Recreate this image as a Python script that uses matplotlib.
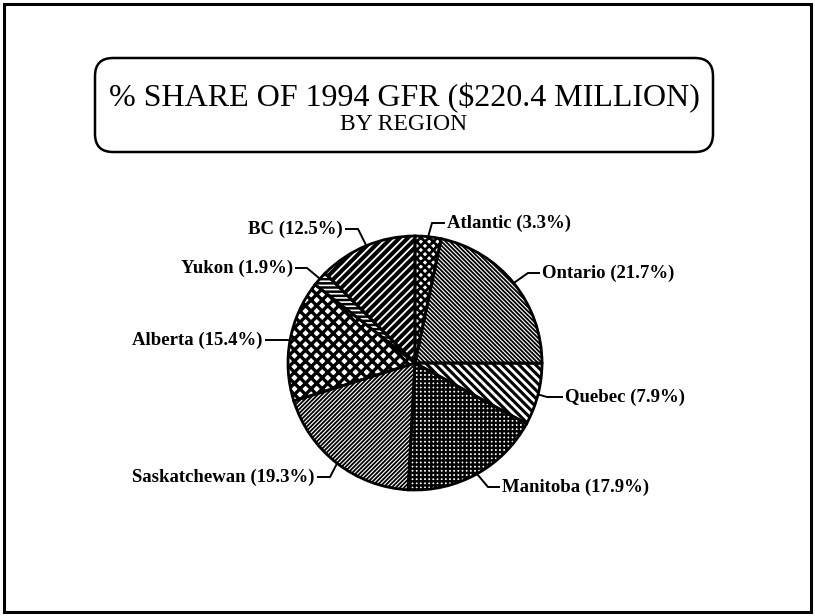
import numpy as np
import matplotlib
matplotlib.use('Agg')
import matplotlib.pyplot as plt
from matplotlib.patches import Wedge, FancyBboxPatch, Rectangle

# ---------------- data ----------------
regions = ['Atlantic', 'Ontario', 'Quebec', 'Manitoba', 'Saskatchewan', 'Alberta', 'Yukon', 'BC']
shares = [3.3, 21.7, 7.9, 17.9, 19.3, 15.4, 1.9, 12.5]
title_line1 = '% SHARE OF 1994 GFR (\\$220.4 MILLION)'
title_line2 = 'BY REGION'

# ---------------- styles / layout ----------------
W, H = 815, 616
hatch_styles = {
    'Atlantic':     dict(face='white', hatch='xxxx', hc='black', hlw=2.0),
    'Ontario':      dict(face='white', hatch='\\' * 8, hc='black', hlw=1.3),
    'Quebec':       dict(face='black', hatch='\\' * 4, hc='white', hlw=2.0),
    'Manitoba':     dict(face='white', hatch='+' * 4, hc='black', hlw=1.7),
    'Saskatchewan': dict(face='white', hatch='/' * 8, hc='black', hlw=1.3),
    'Alberta':      dict(face='white', hatch='xxx', hc='black', hlw=2.4),
    'Yukon':        dict(face='black', hatch='-' * 4, hc='white', hlw=1.2),
    'BC':           dict(face='black', hatch='/' * 4, hc='white', hlw=1.3),
}
# elbow point (pixels from top-left), side of text, horizontal segment length
label_layout = {
    'Atlantic':     ((432, 223), 'left', 13),
    'Ontario':      ((528, 273), 'left', 12),
    'Quebec':       ((547, 397), 'left', 16),
    'Manitoba':     ((488, 487), 'left', 12),
    'Saskatchewan': ((330, 477), 'right', 13),
    'Alberta':      ((290, 340), 'right', 25),
    'Yukon':        ((307, 268), 'right', 12),
    'BC':           ((358, 229), 'right', 13),
}

fig = plt.figure(figsize=(W / 100, H / 100), dpi=100)
fig.patch.set_facecolor('white')
ax = fig.add_axes([0, 0, 1, 1])

cx, cy, R = 415, H - 363, 127
wedges, _ = ax.pie(shares, startangle=90, counterclock=False,
                   center=(cx, cy), radius=R,
                   wedgeprops=dict(linewidth=0))
ax.set_xlim(0, W)
ax.set_ylim(0, H)
ax.set_aspect('equal')
ax.axis('off')

for w, name in zip(wedges, regions):
    st = hatch_styles[name]
    w.set_facecolor(st['face'])
    w.set_edgecolor(st['hc'])
    w.set_hatch(st['hatch'])
    w.set_linewidth(0.0)
    if hasattr(w, 'set_hatch_linewidth'):
        w.set_hatch_linewidth(st['hlw'])
    outline = Wedge(w.center, w.r, w.theta1, w.theta2, fill=False,
                    edgecolor='black', linewidth=2.0, zorder=w.get_zorder() + 0.5)
    ax.add_patch(outline)

# leader lines + labels
for w, name, val in zip(wedges, regions, shares):
    mid = np.deg2rad((w.theta1 + w.theta2) / 2)
    ex, ey = w.center[0] + w.r * np.cos(mid), w.center[1] + w.r * np.sin(mid)
    (bx, by), side, seg = label_layout[name]
    by = H - by
    sgn = 1 if side == 'left' else -1
    tx = bx + sgn * seg
    ax.plot([ex, bx, tx], [ey, by, by], color='black', lw=1.4,
            solid_capstyle='butt', solid_joinstyle='miter', zorder=5)
    ax.text(tx + sgn * 2, by, f'{name} ({val}%)', ha=side, va='center',
            fontsize=13.5, fontweight='bold', family='Liberation Serif',
            color='black', zorder=6)

# title box
bx0, bx1, by0, by1 = 95, 713, 58, 152
box = FancyBboxPatch((bx0, H - by1), bx1 - bx0, by1 - by0,
                     boxstyle='round,pad=0,rounding_size=18',
                     fill=False, edgecolor='black', linewidth=1.8)
ax.add_patch(box)
tcx = (bx0 + bx1) / 2
ax.text(tcx, H - 98, title_line1, ha='center', va='center', fontsize=23,
        family='Liberation Serif', color='black')
ax.text(tcx, H - 124, title_line2, ha='center', va='center', fontsize=17,
        family='Liberation Serif', color='black')

# outer border
ax.add_patch(Rectangle((4, 4), W - 8, H - 8, fill=False, edgecolor='black',
                       linewidth=2.2))

fig.savefig('out.png', dpi=100, facecolor='white')
